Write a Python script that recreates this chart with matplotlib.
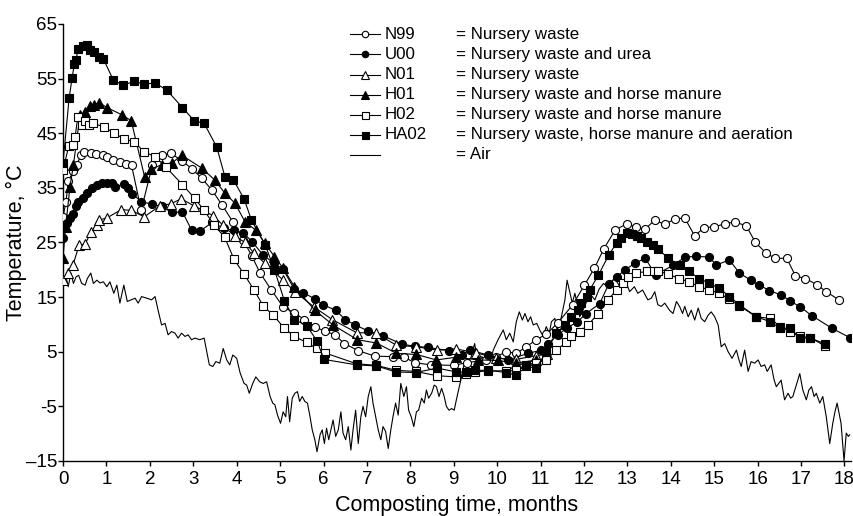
import matplotlib
matplotlib.use("Agg")
import matplotlib.pyplot as plt
import numpy as np

plt.rcParams['font.family'] = ['Liberation Sans', 'DejaVu Sans']

# composting time (months) and temperature (deg C) for each pile
n99_m = [0.0, 0.07, 0.12, 0.24, 0.32, 0.41, 0.49, 0.64, 0.76, 0.93, 1.02, 1.16, 1.31, 1.45, 1.58, 1.8,
         2.06, 2.27, 2.49, 2.73, 2.97, 3.19, 3.43, 3.66, 3.91, 4.15, 4.35, 4.54, 4.8, 5.07, 5.33, 5.56,
         5.8, 6.03, 6.26, 6.48, 6.8, 7.18, 7.6, 7.86, 8.1, 8.47, 9.0, 9.3, 9.75, 9.98, 10.21, 10.44,
         10.67, 10.9, 11.13, 11.4, 11.74, 12.01, 12.24, 12.46, 12.72, 12.98, 13.2, 13.4, 13.63, 13.86,
         14.09, 14.32, 14.55, 14.76, 15.0, 15.25, 15.48, 15.74, 15.95, 16.2, 16.41, 16.67, 16.87, 17.1,
         17.36, 17.58, 17.87]
n99_t = [29.7, 32.5, 36.3, 38.0, 39.2, 41.0, 41.6, 41.3, 41.2, 41.1, 40.7, 40.1, 39.7, 39.4, 39.1, 30.9,
         39.2, 41.0, 41.3, 40.0, 38.5, 36.8, 34.6, 31.9, 28.8, 25.5, 22.5, 19.4, 16.3, 13.2, 12.1, 10.9,
         9.5, 8.8, 8.1, 6.5, 5.2, 4.2, 4.1, 4.0, 3.0, 2.6, 2.5, 3.0, 3.5, 4.1, 5.0, 4.7,
         5.9, 7.2, 8.2, 10.3, 13.6, 17.2, 20.3, 23.9, 27.3, 28.4, 27.8, 27.4, 29.1, 28.3,
         29.3, 29.5, 26.2, 27.7, 27.9, 28.4, 28.8, 28.0, 25.0, 23.0, 22.1, 22.1, 18.9, 18.4,
         17.3, 16.0, 14.5]

u00_m = [0.0, 0.09, 0.16, 0.22, 0.3, 0.35, 0.45, 0.56, 0.66, 0.78, 0.89, 1.01, 1.12, 1.2, 1.41, 1.5,
         1.6, 1.8, 2.04, 2.27, 2.5, 2.75, 2.96, 3.16, 3.44, 3.7, 3.93, 4.15, 4.36, 4.61, 4.86, 5.07,
         5.33, 5.53, 5.8, 5.99, 6.28, 6.5, 6.73, 7.03, 7.38, 7.8, 8.1, 8.4, 8.88, 9.18, 9.37, 9.79,
         10.25, 10.71, 11.02, 11.17, 11.4, 11.6, 11.85, 12.05, 12.36, 12.57, 12.75, 12.95, 13.17, 13.41,
         13.65, 14.05, 14.32, 14.59, 14.88, 15.05, 15.35, 15.58, 15.84, 16.04, 16.27, 16.54, 16.75,
         16.98, 17.25, 17.71, 18.12]
u00_t = [25.9, 28.5, 29.4, 30.3, 31.6, 32.5, 33.1, 34.0, 34.9, 35.5, 35.9, 35.9, 35.8, 35.2, 35.7, 34.9,
         33.9, 32.5, 32.0, 31.6, 30.5, 30.6, 27.3, 27.1, 28.7, 27.6, 27.2, 26.8, 25.1, 22.7, 21.2, 20.1,
         16.4, 15.8, 14.7, 13.6, 12.6, 10.9, 9.9, 8.8, 7.9, 6.4, 6.0, 5.8, 5.2, 4.4, 5.3, 4.4,
         3.5, 4.7, 5.3, 6.5, 8.1, 9.3, 10.5, 12.0, 13.8, 17.4, 18.7, 20.0, 21.2, 22.1,
         19.1, 20.8, 22.3, 22.5, 22.3, 20.9, 21.8, 19.4, 18.1, 17.2, 16.2, 15.4, 14.3,
         13.2, 11.6, 9.3, 7.6]

n01_m = [0.0, 0.12, 0.23, 0.37, 0.51, 0.65, 0.78, 0.83, 1.01, 1.34, 1.57, 1.87, 2.23, 2.49, 2.72, 3.02,
         3.46, 3.68, 3.96, 4.2, 4.4, 4.65, 5.07, 5.34, 5.78, 6.2, 6.76, 7.2, 7.68, 8.14, 8.62, 9.06,
         9.52, 9.98, 10.44, 10.9, 11.15]
n01_t = [18.1, 19.4, 20.9, 24.5, 24.7, 27.0, 28.2, 29.1, 29.5, 31.0, 30.9, 29.7, 31.7, 32.1, 33.0, 31.7,
         29.9, 28.2, 26.1, 25.0, 23.0, 21.2, 18.1, 16.0, 13.2, 10.9, 8.5, 8.4, 6.2, 5.9, 5.3, 5.5,
         4.8, 3.8, 3.6, 4.3, 4.5]

h01_m = [0.0, 0.06, 0.16, 0.24, 0.39, 0.51, 0.62, 0.72, 0.84, 1.01, 1.35, 1.57, 1.88, 2.03, 2.27, 2.52,
         2.73, 3.2, 3.5, 3.73, 3.96, 4.19, 4.45, 4.65, 4.87, 5.07, 5.33, 5.8, 6.22, 6.78, 7.22, 7.68,
         8.14, 8.6, 9.06, 9.56, 10.02, 10.44, 10.9]
h01_t = [22.2, 27.9, 35.2, 39.2, 48.3, 48.9, 49.9, 50.2, 50.6, 49.7, 48.4, 47.3, 37.0, 38.5, 39.2, 39.6,
         41.0, 38.6, 36.4, 34.0, 32.2, 28.8, 27.2, 24.9, 22.4, 20.3, 16.9, 12.6, 9.9, 7.2, 6.6, 4.7,
         4.5, 3.5, 4.0, 3.5, 3.4, 2.9, 3.5]

h02_m = [0.0, 0.13, 0.22, 0.28, 0.34, 0.43, 0.51, 0.59, 0.68, 0.94, 1.18, 1.4, 1.64, 1.87, 2.12, 2.37,
         2.75, 3.03, 3.24, 3.48, 3.72, 3.94, 4.17, 4.4, 4.61, 4.84, 5.1, 5.33, 5.61, 5.84, 6.03, 6.76,
         7.22, 7.67, 8.12, 8.62, 9.06, 9.29, 9.5, 9.79, 10.21, 10.44, 10.67, 10.9, 11.13, 11.36, 11.59,
         11.71, 11.9, 12.09, 12.33, 12.55, 12.75, 12.9, 13.01, 13.2, 13.44, 13.61, 13.7, 13.94, 14.19,
         14.42, 14.66, 14.89, 15.12, 15.35, 15.58, 15.97, 16.29, 16.52, 16.74, 16.98, 17.21, 17.54]
h02_t = [38.3, 42.6, 42.8, 44.4, 48.0, 46.6, 47.3, 46.5, 46.8, 46.2, 45.0, 44.0, 43.4, 41.6, 40.7, 38.8,
         35.6, 33.1, 31.0, 28.2, 26.0, 21.9, 19.2, 16.3, 13.4, 11.7, 9.3, 7.8, 6.7, 5.6, 4.8, 2.8,
         2.5, 1.6, 1.4, 0.6, 0.4, 1.0, 1.3, 1.5, 1.5, 1.6, 2.6, 3.0, 3.5, 5.3, 6.7,
         7.8, 8.7, 9.9, 12.0, 14.5, 16.3, 17.5, 18.7, 19.4, 19.7, 19.8, 19.8, 19.2, 18.4,
         17.8, 16.9, 16.3, 15.7, 14.6, 13.4, 11.4, 11.1, 9.6, 8.7, 7.8, 7.6, 6.1]

ha02_m = [0.0, 0.14, 0.21, 0.26, 0.3, 0.35, 0.45, 0.55, 0.62, 0.72, 0.83, 0.93, 1.16, 1.39, 1.63, 1.87,
          2.12, 2.39, 2.75, 3.02, 3.25, 3.54, 3.73, 3.92, 4.17, 4.34, 4.66, 4.87, 5.1, 5.33, 5.61, 5.85,
          6.01, 6.76, 7.22, 7.67, 8.12, 8.62, 9.06, 9.29, 9.5, 9.79, 10.21, 10.43, 10.67, 10.9, 11.13,
          11.36, 11.56, 11.71, 11.86, 11.94, 12.06, 12.13, 12.33, 12.57, 12.75, 12.86, 12.98, 13.1,
          13.21, 13.32, 13.44, 13.59, 13.7, 13.94, 14.2, 14.42, 14.66, 14.89, 15.12, 15.35, 15.58,
          15.97, 16.29, 16.52, 16.74, 16.98, 17.21, 17.54]
ha02_t = [39.6, 51.4, 55.2, 57.6, 58.5, 60.5, 61.0, 61.1, 60.2, 59.8, 59.0, 58.6, 54.7, 53.8, 54.5, 54.0,
          54.2, 52.9, 49.7, 47.3, 46.8, 42.5, 37.0, 36.5, 33.0, 29.1, 24.5, 20.0, 14.3, 10.9, 9.8, 7.0,
          3.6, 2.6, 2.4, 1.3, 1.2, 2.0, 1.3, 1.3, 1.6, 1.6, 1.2, 0.7, 2.3, 2.0, 5.0,
          8.4, 9.9, 11.4, 12.6, 13.9, 15.1, 16.3, 19.0, 22.7, 24.9, 25.8, 26.7, 26.5,
          26.1, 25.8, 25.1, 24.6, 23.9, 22.1, 20.9, 19.7, 18.4, 17.5, 16.6, 15.1, 13.6,
          11.4, 10.5, 9.3, 9.3, 7.5, 7.5, 6.5]

air_m = [0.01, 0.07, 0.12, 0.18, 0.24, 0.30, 0.36, 0.43, 0.51, 0.56, 0.64, 0.70, 0.78, 0.85, 0.93, 1.01,
         1.08, 1.17, 1.24, 1.31, 1.40, 1.48, 1.57, 1.66, 1.73, 1.81, 1.93, 2.04, 2.12, 2.19, 2.27, 2.35,
         2.42, 2.50, 2.58, 2.65, 2.73, 2.81, 2.88, 2.96, 3.04, 3.15, 3.25, 3.31, 3.37, 3.45, 3.52, 3.61,
         3.69, 3.77, 3.84, 3.91, 4.00, 4.08, 4.17, 4.23, 4.29, 4.37, 4.44, 4.53, 4.61, 4.69, 4.77, 4.83,
         4.88, 4.94, 5.01, 5.07, 5.13, 5.17, 5.22, 5.28, 5.34, 5.40, 5.45, 5.51, 5.57, 5.63, 5.69, 5.74,
         5.80, 5.85, 5.92, 5.97, 6.02, 6.07, 6.12, 6.17, 6.22, 6.28, 6.34, 6.40, 6.45, 6.51, 6.57, 6.63,
         6.68, 6.74, 6.80, 6.86, 6.91, 6.97, 7.03, 7.09, 7.14, 7.20, 7.26, 7.32, 7.37, 7.43, 7.49, 7.55,
         7.60, 7.66, 7.72, 7.78, 7.85, 7.91, 7.96, 8.02, 8.08, 8.14, 8.19, 8.26, 8.32, 8.37, 8.42, 8.49,
         8.55, 8.60, 8.66, 8.72, 8.78, 8.83, 8.89, 8.95, 9.01, 9.06, 9.11, 9.18, 9.24, 9.30, 9.40, 9.48,
         9.55, 9.65, 9.75, 9.85, 9.91, 10.02, 10.14, 10.21, 10.29, 10.37, 10.44, 10.51, 10.58, 10.64,
         10.71, 10.77, 10.83, 10.91, 10.98, 11.06, 11.13, 11.20, 11.25, 11.33, 11.38, 11.44, 11.56,
         11.61, 11.67, 11.73, 11.79, 11.84, 11.90, 11.97, 12.05, 12.15, 12.25, 12.35, 12.45, 12.55,
         12.65, 12.71, 12.82, 12.98, 13.05, 13.16, 13.24, 13.35, 13.47, 13.55, 13.63, 13.70, 13.78,
         13.86, 13.97, 14.05, 14.13, 14.20, 14.27, 14.32, 14.40, 14.47, 14.55, 14.63, 14.70, 14.78,
         14.86, 14.93, 15.01, 15.09, 15.16, 15.24, 15.32, 15.41, 15.51, 15.57, 15.62, 15.70, 15.78,
         15.85, 15.93, 16.01, 16.08, 16.16, 16.22, 16.31, 16.38, 16.43, 16.54, 16.62, 16.70, 16.76,
         16.81, 16.89, 16.97, 17.04, 17.12, 17.18, 17.24, 17.30, 17.35, 17.43, 17.50, 17.54, 17.58,
         17.66, 17.73, 17.78, 17.83, 17.88, 17.92, 17.99, 18.04, 18.09, 18.12]
air_t = [17.5, 18.7, 16.9, 19.4, 17.5, 18.7, 19.0, 17.5, 17.2, 18.4, 19.4, 17.5, 18.1, 17.6, 17.8, 16.9,
         17.8, 15.7, 17.2, 13.9, 17.2, 14.2, 14.5, 14.8, 13.9, 15.1, 14.8, 14.5, 15.1, 12.6, 9.9, 10.2,
         8.1, 8.7, 8.4, 7.5, 8.4, 7.8, 8.1, 7.2, 7.5, 7.2, 7.5, 5.0, 2.6, 2.3, 3.2, 2.9,
         5.6, 3.5, 2.6, 4.4, 3.8, 1.1, -0.8, -1.1, -2.6, -0.8, 0.4, -0.5, -0.8, -0.5, -3.2, -4.4,
         -4.7, -6.6, -8.1, -6.0, -6.9, -3.2, -7.8, -3.5, -2.6, -2.3, -4.1, -3.2, -4.1, -4.4, -6.9, -9.3,
         -11.1, -13.3, -10.2, -9.3, -11.8, -9.0, -11.1, -9.3, -7.5, -10.5, -9.3, -6.0, -9.9, -11.1, -8.7, -13.0,
         -9.3, -5.7, -11.8, -6.9, -5.0, -6.9, -3.2, -1.4, -4.4, -6.9, -9.3, -11.1, -8.7, -9.6, -12.7, -9.3,
         -6.9, -4.4, -6.6, -0.8, -3.2, -1.4, -5.7, -6.9, -8.7, -6.0, -5.7, -3.5, -4.4, -2.0, -3.5, -2.6,
         -1.1, -1.4, -3.2, -1.7, -3.2, -5.0, -5.7, -5.4, -5.7, -3.8, -2.0, 0.4, 2.9, 3.0, 4.0, 6.5,
         3.5, 4.1, 2.9, 3.5, 5.3, 7.2, 9.0, 7.2, 8.4, 6.8, 10.5, 12.3, 10.8, 12.0,
         10.5, 11.4, 9.9, 10.2, 9.0, 7.8, 9.6, 8.4, 10.5, 11.1, 9.0, 9.9, 14.5,
         18.1, 16.0, 13.9, 15.7, 13.9, 11.4, 12.5, 14.0, 15.5, 14.5, 16.5, 17.5, 16.8,
         18.0, 18.4, 17.0, 17.5, 16.0, 16.9, 15.7, 16.3, 14.5, 14.8, 16.0, 13.6, 13.3,
         13.9, 12.6, 12.0, 14.2, 13.3, 12.0, 13.3, 11.4, 12.6, 10.8, 13.0, 11.1, 10.5,
         11.7, 12.3, 11.4, 9.9, 5.9, 6.5, 5.0, 3.8, 5.3, 3.5, 2.3, 5.3, 1.4,
         3.2, 2.9, 3.5, 2.3, 2.6, 1.4, 2.6, -0.2, -1.4, -0.2, -3.8, -2.6, -3.5,
         -3.2, -1.1, 1.0, -2.0, -3.8, -2.0, -1.4, -3.2, -2.6, -4.4, -3.2, -5.0, -6.9,
         -11.8, -8.1, -6.0, -4.4, -6.5, -8.1, -15.0, -9.9, -10.5, -10.2]

x_ticks = list(range(0, 19))
y_ticks = [65, 55, 45, 35, 25, 15, 5, -5, -15]
y_tick_labels = ['65', '55', '45', '35', '25', '15', '5', '-5', '\u201315']

series = [
    ('N99', '= Nursery waste', n99_m, n99_t, 'o', 'white', 5.8),
    ('U00', '= Nursery waste and urea', u00_m, u00_t, 'o', 'black', 5.8),
    ('N01', '= Nursery waste', n01_m, n01_t, '^', 'white', 6.5),
    ('H01', '= Nursery waste and horse manure', h01_m, h01_t, '^', 'black', 6.5),
    ('H02', '= Nursery waste and horse manure', h02_m, h02_t, 's', 'white', 6.3),
    ('HA02', '= Nursery waste, horse manure and aeration', ha02_m, ha02_t, 's', 'black', 6.3),
]

fig = plt.figure(figsize=(8.54, 5.16), dpi=100)
ax = fig.add_axes([0.0738, 0.1066, 0.9227, 0.8469])

ax.plot(air_m, air_t, color='black', lw=0.8, zorder=2)
for i, (code, desc, m, t, mk, fc, ms) in enumerate(series):
    ax.plot(m, t, color='black', lw=0.8, marker=mk, markersize=ms,
            markerfacecolor=fc, markeredgecolor='black', markeredgewidth=0.8, zorder=3 + i)

ax.set_xlim(0, 18.15)
ax.set_ylim(-15, 65)
ax.set_xticks(x_ticks)
ax.set_yticks(y_ticks)
ax.set_yticklabels(y_tick_labels)
for s in ['top', 'right']:
    ax.spines[s].set_visible(False)
for s in ['left', 'bottom']:
    ax.spines[s].set_linewidth(1.0)
ax.tick_params(axis='both', direction='out', length=3.5, width=1.0, labelsize=13.5)
ax.tick_params(axis='y', pad=0.8)
ax.tick_params(axis='x', pad=4)
ax.set_xlabel('Composting time, months', fontsize=15.5, labelpad=5)
ax.set_ylabel('Temperature, \u00b0C', fontsize=15.5, labelpad=-1)

# hand-made legend in axes fraction
lx0, lx1, lcode, ldesc = 0.364, 0.402, 0.408, 0.499
ly0, ldy = 0.976, 0.0458
for i, (code, desc, m, t, mk, fc, ms) in enumerate(series):
    y = ly0 - i * ldy
    ax.plot([lx0, lx1], [y, y], transform=ax.transAxes, color='black', lw=0.8, clip_on=False)
    ax.plot([(lx0 + lx1) / 2], [y], transform=ax.transAxes, marker=mk, markersize=ms * 0.8,
            markerfacecolor=fc, markeredgecolor='black', markeredgewidth=0.8, clip_on=False)
    ax.text(lcode, y, code, transform=ax.transAxes, va='center', fontsize=12.2)
    ax.text(ldesc, y, desc, transform=ax.transAxes, va='center', fontsize=12.2)
y = ly0 - len(series) * ldy
ax.plot([lx0, lx1], [y, y], transform=ax.transAxes, color='black', lw=0.8, clip_on=False)
ax.text(ldesc, y, '= Air', transform=ax.transAxes, va='center', fontsize=12.2)

fig.savefig('out.png', dpi=100)
